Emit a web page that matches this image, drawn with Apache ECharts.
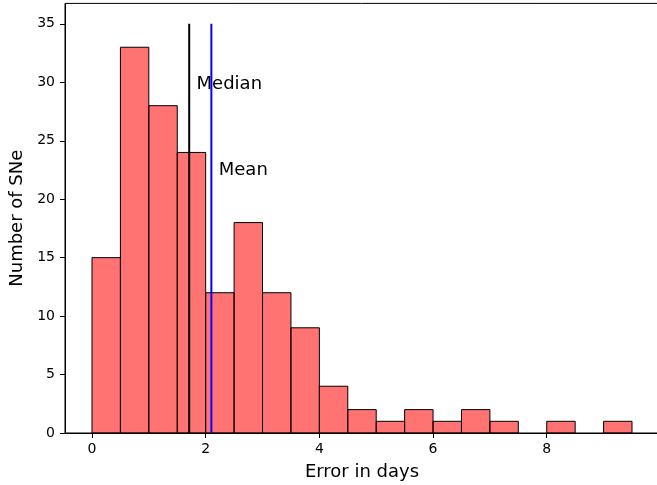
<!DOCTYPE html>
<html>
<head>
<meta charset="utf-8">
<script src="https://cdn.jsdelivr.net/npm/echarts@6/dist/echarts.min.js"></script>
<style>
  html, body { margin: 0; padding: 0; background: #fff; }
  #chart { width: 657px; height: 485px; }
</style>
</head>
<body>
<div id="chart"></div>
<script>
// Histogram of timing errors: bin edges (days) and counts per bin
const binEdges = [0, 0.5, 1, 1.5, 2, 2.5, 3, 3.5, 4, 4.5, 5, 5.5, 6, 6.5, 7, 7.5, 8, 8.5, 9, 9.5];
const counts = [15, 33, 28, 24, 12, 18, 12, 9, 4, 2, 1, 2, 1, 2, 1, 0, 1, 0, 1];

// Summary statistics drawn as vertical lines
const medianValue = 1.71;
const meanValue = 2.1;
const lineTop = 35;

// Annotation text anchors (data coordinates)
const medianLabel = { text: 'Median', x: 1.84, y: 29.8 };
const meanLabel = { text: 'Mean', x: 2.23, y: 22.5 };

// Axis ticks
const xTicks = [0, 2, 4, 6, 8];
const yTicks = [0, 5, 10, 15, 20, 25, 30, 35];

const FONT = 'DejaVu Sans';

const bins = counts.map((c, i) => [binEdges[i], binEdges[i + 1], c]);

const chart = echarts.init(document.getElementById('chart'), null, { renderer: 'canvas' });

chart.setOption({
  animation: false,
  backgroundColor: '#ffffff',
  grid: {
    left: 65, top: 3.4, width: 594, height: 429.6,
    containLabel: false, outerBoundsMode: 'none',
    show: true, borderColor: '#000', borderWidth: 1, backgroundColor: 'transparent'
  },
  xAxis: {
    type: 'value', min: -0.475, max: 9.975,
    name: 'Error in days', nameLocation: 'middle', nameGap: 30,
    nameTextStyle: { fontFamily: FONT, fontSize: 18, color: '#000' },
    axisLine: { show: true, onZero: false, lineStyle: { color: '#000', width: 1 } },
    axisTick: { show: true, inside: false, length: 5, customValues: xTicks, lineStyle: { color: '#000' } },
    axisLabel: { customValues: xTicks, margin: 9, fontFamily: FONT, fontSize: 14, color: '#000' },
    splitLine: { show: false }
  },
  yAxis: {
    type: 'value', min: 0, max: 36.75,
    name: 'Number of SNe', nameLocation: 'middle', nameGap: 36, nameRotate: 90,
    nameTextStyle: { fontFamily: FONT, fontSize: 18, color: '#000' },
    axisLine: { show: true, onZero: false, lineStyle: { color: '#000', width: 1 } },
    axisTick: { show: true, inside: false, length: 5, customValues: yTicks, lineStyle: { color: '#000' } },
    axisLabel: { customValues: yTicks, margin: 10, fontFamily: FONT, fontSize: 14, color: '#000' },
    splitLine: { show: false }
  },
  series: [
    {
      type: 'custom',
      data: bins,
      encode: { x: [0, 1], y: 2 },
      renderItem: function (params, api) {
        const p0 = api.coord([api.value(0), 0]);
        const p1 = api.coord([api.value(1), api.value(2)]);
        if (api.value(2) === 0) return null;
        return {
          type: 'rect',
          shape: { x: p0[0], y: p1[1], width: p1[0] - p0[0], height: p0[1] - p1[1] },
          style: { fill: 'rgba(255,0,0,0.55)', stroke: '#000', lineWidth: 1 }
        };
      },
      z: 2
    },
    {
      type: 'line',
      data: [[medianValue, 0], [medianValue, lineTop]],
      symbol: 'none',
      lineStyle: { color: '#000', width: 2 },
      z: 3
    },
    {
      type: 'scatter',
      symbolSize: 0,
      data: [[medianLabel.x, medianLabel.y], [meanLabel.x, meanLabel.y]],
      itemStyle: { color: '#000', opacity: 1 },
      label: {
        show: true, position: [0, 0], align: 'left', verticalAlign: 'middle',
        fontFamily: FONT, fontSize: 18, color: '#000', opacity: 1,
        formatter: function (p) { return p.dataIndex === 0 ? medianLabel.text : meanLabel.text; }
      },
      z: 4
    },
    {
      type: 'line',
      data: [[meanValue, 0], [meanValue, lineTop]],
      symbol: 'none',
      lineStyle: { color: '#0000ff', width: 2 },
      z: 5
    }
  ]
});
</script>
</body>
</html>
